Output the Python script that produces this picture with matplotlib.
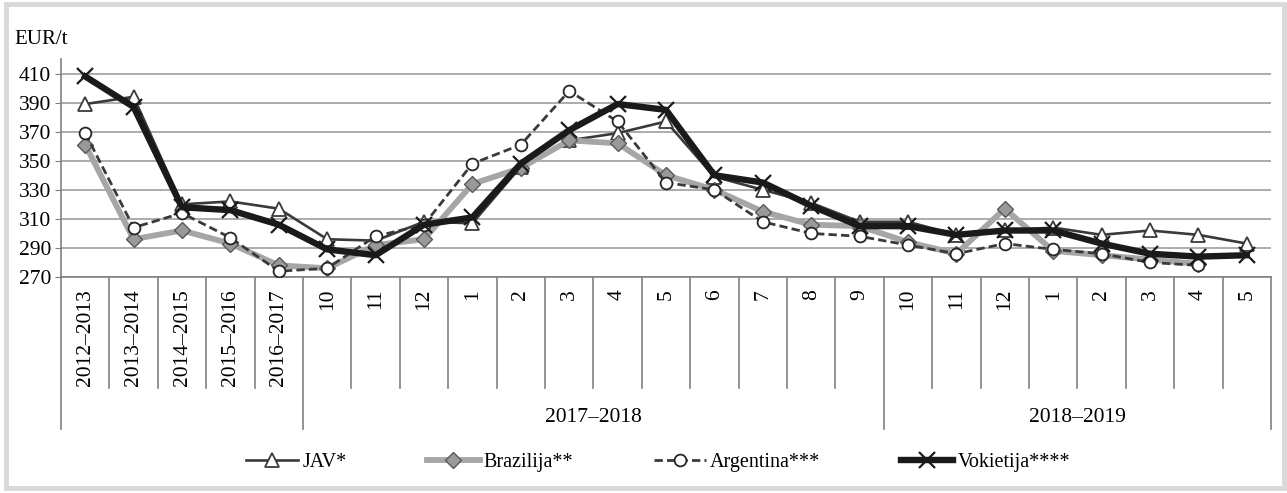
import matplotlib
matplotlib.use("Agg")
import matplotlib.pyplot as plt
from matplotlib.patches import Rectangle
from matplotlib.transforms import blended_transform_factory

plt.rcParams["font.family"] = ["Liberation Serif", "DejaVu Serif"]

# categories along the x axis
labels = ["2012–2013", "2013–2014", "2014–2015", "2015–2016", "2016–2017",
          "10", "11", "12", "1", "2", "3", "4", "5", "6", "7", "8", "9",
          "10", "11", "12", "1", "2", "3", "4", "5"]
# (group label, first index, last index)
groups = [("2017–2018", 5, 16), ("2018–2019", 17, 24)]

jav = [389, 394, 320, 322, 317, 296, 295, 308, 307, 346, 364, 369, 377,
       339, 330, 321, 308, 308, 299, 302, 304, 299, 302, 299, 293]
brazilija = [361, 296, 302, 293, 278, 276, 292, 296, 334, 345, 364, 362, 340,
             330, 315, 306, 305, 294, 286, 317, 288, 285, 282, 279, None]
argentina = [369, 304, 314, 297, 274, 276, 298, 306, 348, 361, 398, 377, 335,
             330, 308, 300, 298, 292, 286, 293, 289, 286, 280, 278, None]
vokietija = [408, 387, 318, 316, 306, 289, 285, 306, 311, 348, 371, 389, 385,
             340, 335, 319, 305, 305, 299, 302, 302, 293, 286, 284, 285]

W, H = 1287, 493
FS = 15.5  # axis text size
fig = plt.figure(figsize=(W / 100, H / 100), dpi=100)
ax = fig.add_axes([61 / W, 1 - 277 / H, 1210 / W, 218 / H])

x = list(range(len(labels)))
nan = float("nan")
fix = lambda s: [nan if v is None else v for v in s]

ax.plot(x, fix(jav), color="#3a3a3a", lw=1.9, marker="^", ms=10,
        mfc="white", mec="#3a3a3a", mew=1.3, label="JAV*", zorder=3)
ax.plot(x, fix(brazilija), color="#a6a6a6", lw=4.2, marker="D", ms=8,
        mfc="#999999", mec="#595959", mew=1.0, label="Brazilija**", zorder=4)
ax.plot(x, fix(argentina), color="#3a3a3a", lw=2.0, ls=(0, (3, 1.5)), marker="o",
        ms=8.5, mfc="white", mec="#262626", mew=1.3, label="Argentina***", zorder=5)
ax.plot(x, fix(vokietija), color="#1a1a1a", lw=4.6, marker="x", ms=12,
        mec="#1a1a1a", mew=1.6, label="Vokietija****", zorder=6)

ax.set_xlim(-0.5, len(labels) - 0.5)
ax.set_ylim(270, 420)
ax.set_yticks(range(270, 411, 20))
ax.tick_params(axis="y", labelsize=FS, length=4, color="#808080", pad=3)
ax.grid(axis="y", color="#a6a6a6", lw=1.3)
ax.set_axisbelow(True)
for side in ("top", "right"):
    ax.spines[side].set_visible(False)
for side in ("left", "bottom"):
    ax.spines[side].set_color("#808080")
    ax.spines[side].set_linewidth(1.2)
ax.set_xticks([])

# multi-level category axis
tr = blended_transform_factory(ax.transData, ax.transAxes)
group_edges = {groups[0][1] - 0.5} | {g[2] + 0.5 for g in groups} | {-0.5}
for k in range(len(labels) + 1):
    xe = k - 0.5
    low = -0.695 if xe in group_edges else -0.51
    ax.plot([xe, xe], [0, low], transform=tr, color="#808080", lw=1.2,
            clip_on=False)
for i, lab in enumerate(labels):
    ax.text(i, -0.055, lab, transform=tr, rotation=90, ha="center", va="top",
            fontsize=FS)
for name, a, b in groups:
    ax.text((a + b) / 2, -0.645, name, transform=tr, ha="center",
            va="center", fontsize=FS)

fig.text(14 / W, 1 - 40 / H, "EUR/t", ha="left", va="center", fontsize=15)

fig.legend(loc="center", bbox_to_anchor=(658 / W, 1 - 462 / H), ncol=4,
           frameon=False, fontsize=14.5, handlelength=2.6, columnspacing=4.0,
           handletextpad=0.2)

fig.patches.append(Rectangle((5.5 / W, 5.5 / H), (W - 9) / W, (H - 9) / H,
                             transform=fig.transFigure, fill=False,
                             edgecolor="#d9d9d9", lw=3.5))

fig.savefig("out.png", dpi=100)
